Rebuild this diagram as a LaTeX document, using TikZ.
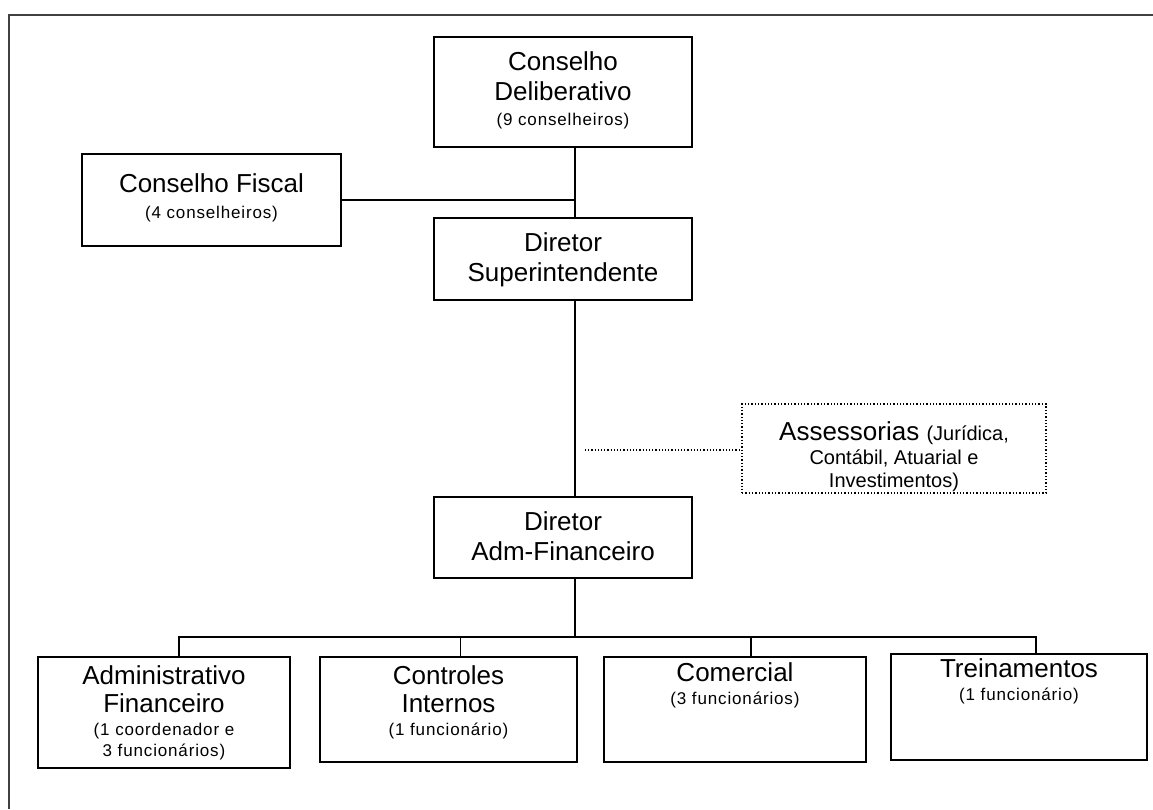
\documentclass[tikz,border=0pt]{standalone}
\usepackage{fontspec}
\setmainfont{Liberation Sans}
\newfontfamily\subfamily[LetterSpace=5]{Liberation Sans}
\newcommand\subf{\subfamily\fontsize{17}{20}\selectfont}
\newcommand\midf{\fontsize{20}{24}\selectfont}
\begin{document}
\begin{tikzpicture}[x=1pt,y=-1pt,
  box/.style={draw, line width=1.6pt, inner sep=0pt},
  dotbox/.style={draw, dotted, line width=1.3pt, inner sep=0pt},
  lbl/.style={anchor=north, align=center, inner sep=0pt, yshift=-15pt,
              font=\fontsize{26}{30}\selectfont},
  link/.style={line width=1.3pt},
  dotlink/.style={dotted, line width=1.2pt}]
\useasboundingbox (0,0) rectangle (1153,809);

% page frame (top and left rules)
\draw[line width=1.2pt, black!75] (9,809) -- (9,15) -- (1153,15);

% boxes
\node[box, minimum width=258pt, minimum height=110pt] (CD) at (563,92) {};
\node[box, minimum width=259pt, minimum height=92pt]  (CF) at (211.5,200) {};
\node[box, minimum width=258pt, minimum height=82pt]  (DS) at (563,259) {};
\node[dotbox, minimum width=304pt, minimum height=89pt] (AS) at (894,448.5) {};
\node[box, minimum width=258pt, minimum height=81pt]  (DAF) at (563,537.5) {};
\node[box, minimum width=252pt, minimum height=111pt] (AF) at (164,712.5) {};
\node[box, minimum width=257pt, minimum height=105pt] (CI) at (448.5,709.5) {};
\node[box, minimum width=262pt, minimum height=105pt] (CO) at (735,709.5) {};
\node[box, minimum width=256pt, minimum height=106pt] (TR) at (1019,707) {};

% box texts
\node[lbl] (tCD) at (CD.north) {Conselho\\Deliberativo\\[-5pt]{\subf (9 conselheiros)}};
\node[lbl, yshift=-5pt] (tCF) at (CF.north) {Conselho Fiscal\\[-4pt]{\subf (4 conselheiros)}};
\node[lbl] (tDS) at (DS.north) {Diretor\\Superintendente};
\node[lbl, yshift=-3pt] (tAS) at (AS.north) {Assessorias {\midf (Jurídica,}\\[-6pt]{\midf Contábil, Atuarial e}\\[-7pt]{\midf Investimentos)}};
\node[lbl] (tDAF) at (DAF.north) {Diretor\\Adm-Financeiro};
\node[lbl, yshift=6pt] (tAF) at (AF.north) {Administrativo\\[-2pt]Financeiro\\[-7pt]{\subf (1 coordenador e}\\[-9pt]{\subf 3 funcionários)}};
\node[lbl, yshift=6pt] (tCI) at (CI.north) {Controles\\[-2pt]Internos\\[-7pt]{\subf (1 funcionário)}};
\node[lbl, yshift=9pt] (tCO) at (CO.north) {Comercial\\[-7pt]{\subf (3 funcionários)}};
\node[lbl, yshift=10pt] (tTR) at (TR.north) {Treinamentos\\[-7pt]{\subf (1 funcionário)}};

% connectors
\coordinate (spine) at (575,0);
\coordinate (bus) at (575,637);
\coordinate (dotstart) at (585,450);
\draw[link] (CD.south -| spine) -- (DS.north -| spine);
\draw[link] (CF.east) -- (CF.east -| spine);
\draw[link] (DS.south -| spine) -- (DAF.north -| spine);
\draw[dotlink] (dotstart) -- (dotstart -| AS.west);
\draw[link] (DAF.south -| spine) -- (bus);
\draw[link] ([xshift=15pt]AF.north) |- (bus);
\draw[link] ([xshift=17pt]TR.north) |- (bus);
\draw[link] ([xshift=12pt]CI.north) -- ([xshift=12pt]CI.north |- bus);
\draw[link] ([xshift=16pt]CO.north) -- ([xshift=16pt]CO.north |- bus);
\end{tikzpicture}
\end{document}
